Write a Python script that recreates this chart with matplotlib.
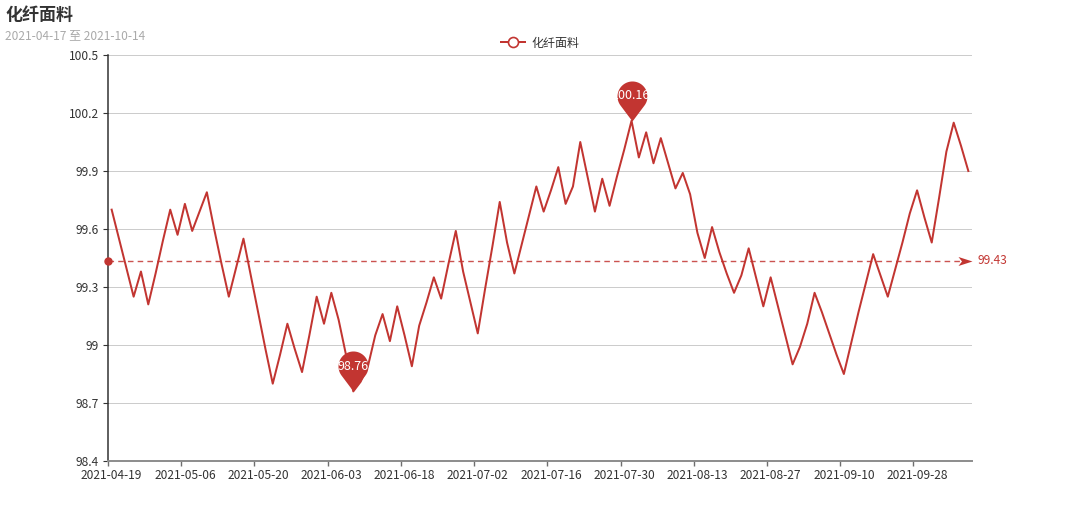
import matplotlib
matplotlib.use("Agg")
import matplotlib.pyplot as plt
import numpy as np
from matplotlib.path import Path
from matplotlib.lines import Line2D

plt.rcParams['font.family'] = ['Noto Sans CJK SC', 'DejaVu Sans']

title = '化纤面料'
subtitle = '2021-04-17 至 2021-10-14'
series_name = '化纤面料'

# daily index values, one per trading day (118 days)
values = [
    99.70, 99.55, 99.40, 99.25, 99.38, 99.21, 99.37, 99.54, 99.70, 99.57,
    99.73, 99.59, 99.69, 99.79, 99.60, 99.42, 99.25, 99.40, 99.55, 99.36,
    99.17, 98.98, 98.80, 98.95, 99.11, 98.98, 98.86, 99.05, 99.25, 99.11,
    99.27, 99.13, 98.95, 98.76, 98.81, 98.89, 99.05, 99.16, 99.02, 99.20,
    99.05, 98.89, 99.10, 99.22, 99.35, 99.24, 99.42, 99.59, 99.38, 99.22,
    99.06, 99.29, 99.51, 99.74, 99.53, 99.37, 99.52, 99.67, 99.82, 99.69,
    99.80, 99.92, 99.73, 99.82, 100.05, 99.87, 99.69, 99.86, 99.72, 99.87,
    100.01, 100.16, 99.97, 100.10, 99.94, 100.07, 99.94, 99.81, 99.89, 99.78,
    99.58, 99.45, 99.61, 99.48, 99.37, 99.27, 99.36, 99.50, 99.35, 99.20,
    99.35, 99.20, 99.05, 98.90, 98.99, 99.11, 99.27, 99.17, 99.06, 98.95,
    98.85, 99.01, 99.17, 99.32, 99.47, 99.36, 99.25, 99.39, 99.53, 99.68,
    99.80, 99.66, 99.53, 99.76, 100.00, 100.15, 100.03, 99.90,
]

# category labels shown on the x axis (every 10th trading day)
tick_labels = ['2021-04-19', '2021-05-06', '2021-05-20', '2021-06-03',
               '2021-06-18', '2021-07-02', '2021-07-16', '2021-07-30',
               '2021-08-13', '2021-08-27', '2021-09-10', '2021-09-28']
y_ticks = [98.4, 98.7, 99.0, 99.3, 99.6, 99.9, 100.2, 100.5]

RED = '#c23531'
PX = 0.72  # points per pixel at dpi 100


def pin_path(c=25.0, r=15.0, n=40):
    # balloon with the tip at (0, 0)
    beta = np.arccos(r / c)
    a = np.linspace(-np.pi / 2 + beta, 3 * np.pi / 2 - beta, n)
    verts = [(0, 0)] + [(r * np.cos(t), c + r * np.sin(t)) for t in a] + [(0, 0)]
    codes = [Path.MOVETO] + [Path.LINETO] * n + [Path.CLOSEPOLY]
    return Path(verts, codes), c + r


def arrow_path():
    verts = [(0, 0), (-14, 4.5), (-10.5, 0), (-14, -4.5), (0, 0)]
    codes = [Path.MOVETO, Path.LINETO, Path.LINETO, Path.LINETO, Path.CLOSEPOLY]
    return Path(verts, codes), 14


fig = plt.figure(figsize=(10.8, 5.17), dpi=100)
ax = fig.add_axes([108 / 1080, 1 - 461 / 517, 864 / 1080, 406 / 517])

x = np.arange(len(values))
y = np.array(values)
ax.plot(x, y, color=RED, lw=2 * PX, zorder=3)

ax.set_xlim(-0.5, len(values) - 0.5)
ax.set_ylim(y_ticks[0], y_ticks[-1])

# y axis
ax.set_yticks(y_ticks)
ax.set_yticklabels(['{:g}'.format(v) for v in y_ticks])
ax.yaxis.grid(True, color='#cccccc', lw=1 * PX)
ax.set_axisbelow(True)

# x axis: ticks on band edges, labels on band centres
tick_idx = np.arange(0, len(values), 10)
ax.set_xticks(tick_idx - 0.5)
ax.set_xticklabels([])
ax.set_xticks(tick_idx, minor=True)
ax.set_xticklabels(tick_labels, minor=True)
ax.tick_params(axis='x', which='major', length=5 * PX, color='#6e6e6e', width=1)
ax.tick_params(axis='x', which='minor', length=0, pad=3 * PX + 5 * PX,
               labelsize=12 * PX, labelcolor='#333333')
ax.tick_params(axis='y', length=5 * PX, color='#333333', pad=3,
               labelsize=12 * PX, labelcolor='#333333')

for s in ['top', 'right']:
    ax.spines[s].set_visible(False)
ax.spines['left'].set_color('#333333')
ax.spines['left'].set_linewidth(1.1)
ax.spines['bottom'].set_color('#8c8c8c')
ax.spines['bottom'].set_linewidth(1.4)
ax.spines['bottom'].set_zorder(4)

# average line
avg = float(np.mean(y))
x0, x1 = ax.get_xlim()
ax.plot([x0, x1 - 1.5], [avg, avg], ls=(0, (4, 3)), color=RED, lw=1, alpha=0.85,
        zorder=2, clip_on=False)
ax.plot([x0], [avg], marker='o', ms=7 * PX, color=RED, clip_on=False, zorder=5)
apath, aext = arrow_path()
ax.plot([x1], [avg], marker=apath, ms=2 * aext * PX, color=RED, mew=0,
        clip_on=False, zorder=5)
ax.annotate('{:.2f}'.format(avg), (x1, avg), xytext=(5 * PX, 0),
            textcoords='offset points', ha='left', va='center',
            color=RED, fontsize=12 * PX)

# max / min pins
ppath, pext = pin_path()
for idx in [int(np.argmax(y)), int(np.argmin(y))]:
    ax.plot([x[idx]], [y[idx]], marker=ppath, ms=2 * pext * PX, color=RED,
            mew=0, zorder=6, clip_on=False)
    ax.annotate('{:.2f}'.format(y[idx]), (x[idx], y[idx]), xytext=(0, 25 * PX),
                textcoords='offset points', ha='center', va='center',
                color='white', fontsize=12.5 * PX, zorder=7)

# titles and legend
fig.text(5 / 1080, 1 - 15 / 517, title, fontsize=17 * PX, fontweight='bold',
         color='#333333', ha='left', va='center')
fig.text(5 / 1080, 1 - 36 / 517, subtitle, fontsize=12 * PX, color='#aaaaaa',
         ha='left', va='center')
handle = Line2D([], [], color=RED, lw=2 * PX, marker='o', ms=10 * PX,
                mfc='white', mec=RED, mew=1.2)
fig.legend([handle], [series_name], loc='center', bbox_to_anchor=(0.5, 1 - 43 / 517),
           frameon=False, fontsize=12 * PX, handlelength=2.0, handletextpad=0.5,
           labelcolor='#333333')

fig.savefig('out.png', dpi=100)
